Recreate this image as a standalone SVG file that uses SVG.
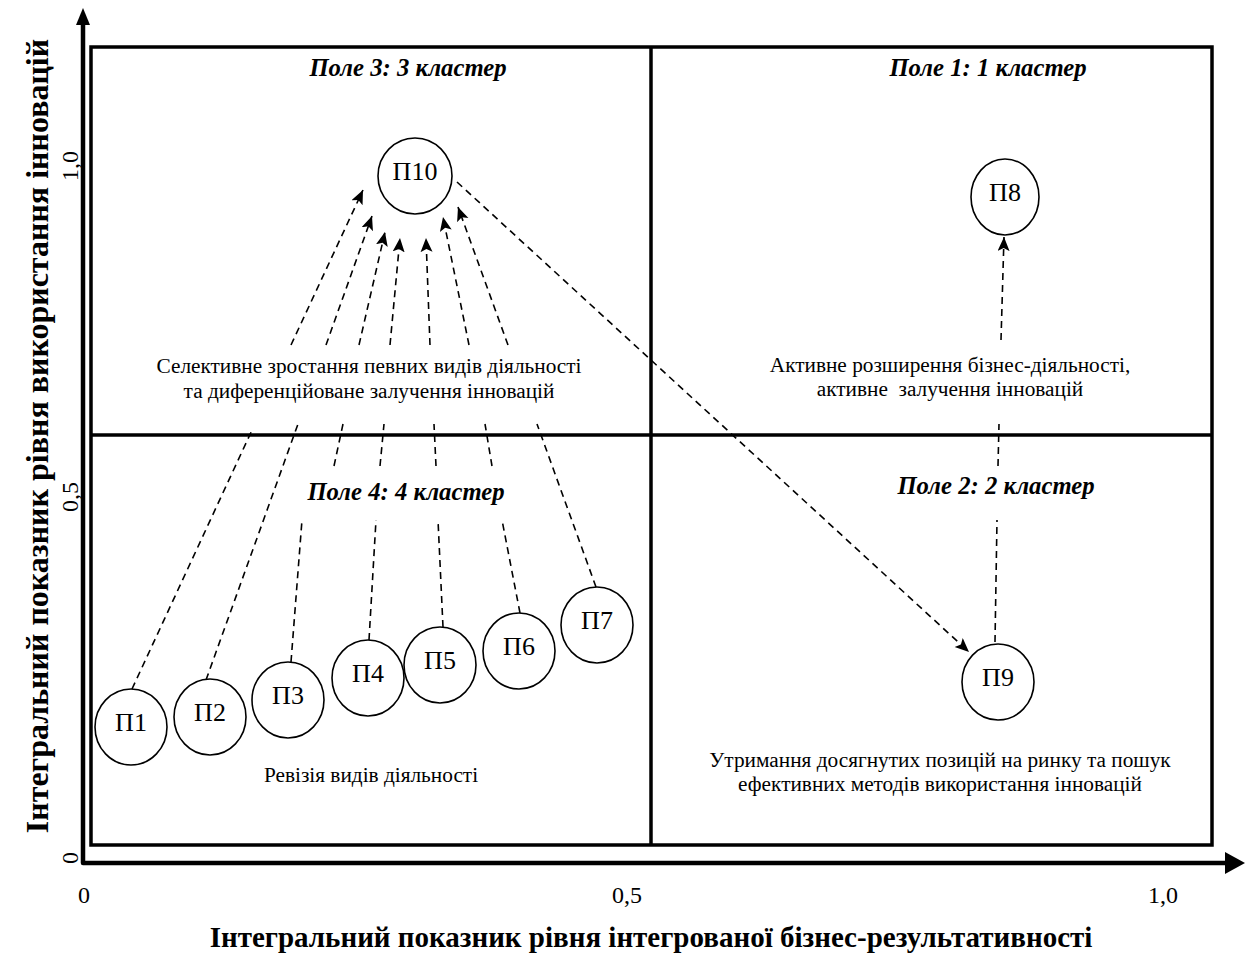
<svg xmlns="http://www.w3.org/2000/svg" width="1251" height="953" viewBox="0 0 1251 953">
<style>
.frame{fill:none;stroke:#000;stroke-width:3.5}
.div{stroke:#000;stroke-width:3.5}
.axis{fill:none;stroke:#000;stroke-width:4.5;stroke-linejoin:round}
.node ellipse{fill:#fff;stroke:#000;stroke-width:1.6}
.lbl{font-family:"Liberation Serif","Times New Roman",serif;font-size:26px;text-anchor:middle;fill:#000}
.title{font-family:"Liberation Serif","Times New Roman",serif;font-size:24.7px;font-weight:bold;font-style:italic;text-anchor:middle;fill:#000}
.body{font-family:"Liberation Serif","Times New Roman",serif;font-size:21.3px;text-anchor:middle;fill:#000}
.tick{font-family:"Liberation Serif","Times New Roman",serif;font-size:24px;text-anchor:middle;fill:#000}
.axtitle{font-family:"Liberation Serif","Times New Roman",serif;font-size:29px;font-weight:bold;text-anchor:middle;fill:#000}
.aytitle{font-family:"Liberation Serif","Times New Roman",serif;font-size:32px;font-weight:bold;text-anchor:middle;fill:#000}
.dash{fill:none;stroke:#000;stroke-width:1.6;stroke-dasharray:7 5}
</style>
<defs>
<marker id="ah" markerUnits="userSpaceOnUse" markerWidth="16" markerHeight="14" refX="14" refY="6" orient="auto">
<path d="M0,0 L14,6 L0,12 L3,6 z" fill="#000"/>
</marker>
</defs>

<!-- axes -->
<g id="axes">
<path class="axis" d="M83,24 V863 H1226"/>
<polygon points="83,8 76,25 90,25" fill="#000"/>
<polygon points="1245,863 1225,852 1225,874" fill="#000"/>
<text class="tick" x="84" y="903">0</text>
<text class="tick" x="627" y="903">0,5</text>
<text class="tick" x="1163" y="903">1,0</text>
<text class="tick" transform="translate(78,858) rotate(-90)">0</text>
<text class="tick" transform="translate(78,497) rotate(-90)">0,5</text>
<text class="tick" transform="translate(78,166) rotate(-90)">1,0</text>
<text class="axtitle" x="651" y="947">Інтегральний показник рівня інтегрованої бізнес-результативності</text>
<text class="aytitle" transform="translate(48,436) rotate(-90)">Інтегральний показник рівня використання інновацій</text>
</g>

<!-- frame -->
<g id="frame">
<rect class="frame" x="91" y="47" width="1121" height="798"/>
<line class="div" x1="651" y1="47" x2="651" y2="845"/>
<line class="div" x1="91" y1="435" x2="1212" y2="435"/>
</g>

<!-- connectors -->
<g id="connectors">
<!-- P1 -> P10 -->
<line class="dash" x1="132" y1="689" x2="253" y2="428"/>
<path class="dash" d="M291,345 L363,190" marker-end="url(#ah)"/>
<!-- P2 -> P10 -->
<line class="dash" x1="206" y1="680" x2="298" y2="424"/>
<path class="dash" d="M326,345 L372,216" marker-end="url(#ah)"/>
<!-- P3 -> P10 -->
<line class="dash" x1="291" y1="662" x2="302" y2="520"/>
<line class="dash" x1="334" y1="466" x2="343" y2="424"/>
<path class="dash" d="M359,345 L385,232" marker-end="url(#ah)"/>
<!-- P4 -> P10 -->
<line class="dash" x1="369" y1="640" x2="376" y2="520"/>
<line class="dash" x1="380" y1="466" x2="384" y2="424"/>
<path class="dash" d="M390,345 L400,238" marker-end="url(#ah)"/>
<!-- P5 -> P10 -->
<line class="dash" x1="443" y1="627" x2="438" y2="520"/>
<line class="dash" x1="436" y1="466" x2="434" y2="424"/>
<path class="dash" d="M430,345 L426,238" marker-end="url(#ah)"/>
<!-- P6 -> P10 -->
<line class="dash" x1="520" y1="613" x2="502" y2="520"/>
<line class="dash" x1="492" y1="466" x2="485" y2="424"/>
<path class="dash" d="M469,345 L443,217" marker-end="url(#ah)"/>
<!-- P7 -> P10 -->
<line class="dash" x1="596" y1="587" x2="537" y2="424"/>
<path class="dash" d="M508,345 L458,207" marker-end="url(#ah)"/>
<!-- P10 -> P9 -->
<path class="dash" d="M457,182 L969,652" marker-end="url(#ah)"/>
<!-- P9 -> P8 -->
<line class="dash" x1="995" y1="642" x2="997" y2="520"/>
<line class="dash" x1="998" y1="466" x2="999" y2="424"/>
<path class="dash" d="M1001,340 L1004,237" marker-end="url(#ah)"/>
</g>

<!-- field texts -->
<g id="fields">
<text class="title" x="408" y="76">Поле 3: 3 кластер</text>
<text class="title" x="988" y="76">Поле 1: 1 кластер</text>
<text class="title" x="406" y="500">Поле 4: 4 кластер</text>
<text class="title" x="996" y="494">Поле 2: 2 кластер</text>
<text class="body" x="369" y="373">Селективне зростання певних видів діяльності</text>
<text class="body" x="369" y="398">та диференційоване залучення інновацій</text>
<text class="body" x="950" y="372">Активне розширення бізнес-діяльності,</text>
<text class="body" x="950" y="396" xml:space="preserve">активне  залучення інновацій</text>
<text class="body" x="371" y="782">Ревізія видів діяльності</text>
<text class="body" x="940" y="767">Утримання досягнутих позицій на ринку та пошук</text>
<text class="body" x="940" y="791">ефективних методів використання інновацій</text>
</g>

<!-- nodes -->
<g id="P1" class="node"><ellipse cx="131" cy="727" rx="36" ry="38"/><text class="lbl" x="131" y="731">П1</text></g>
<g id="P2" class="node"><ellipse cx="210" cy="717" rx="36" ry="38"/><text class="lbl" x="210" y="721">П2</text></g>
<g id="P3" class="node"><ellipse cx="288" cy="700" rx="36" ry="38"/><text class="lbl" x="288" y="704">П3</text></g>
<g id="P4" class="node"><ellipse cx="368" cy="678" rx="36" ry="38"/><text class="lbl" x="368" y="682">П4</text></g>
<g id="P5" class="node"><ellipse cx="440" cy="665" rx="36" ry="38"/><text class="lbl" x="440" y="669">П5</text></g>
<g id="P6" class="node"><ellipse cx="519" cy="651" rx="36" ry="38"/><text class="lbl" x="519" y="655">П6</text></g>
<g id="P7" class="node"><ellipse cx="597" cy="625" rx="36" ry="38"/><text class="lbl" x="597" y="629">П7</text></g>
<g id="P8" class="node"><ellipse cx="1005" cy="197" rx="34" ry="38"/><text class="lbl" x="1005" y="201">П8</text></g>
<g id="P9" class="node"><ellipse cx="998" cy="682" rx="36" ry="38"/><text class="lbl" x="998" y="686">П9</text></g>
<g id="P10" class="node"><ellipse cx="415" cy="176" rx="37" ry="38"/><text class="lbl" x="415" y="180">П10</text></g>
</svg>
